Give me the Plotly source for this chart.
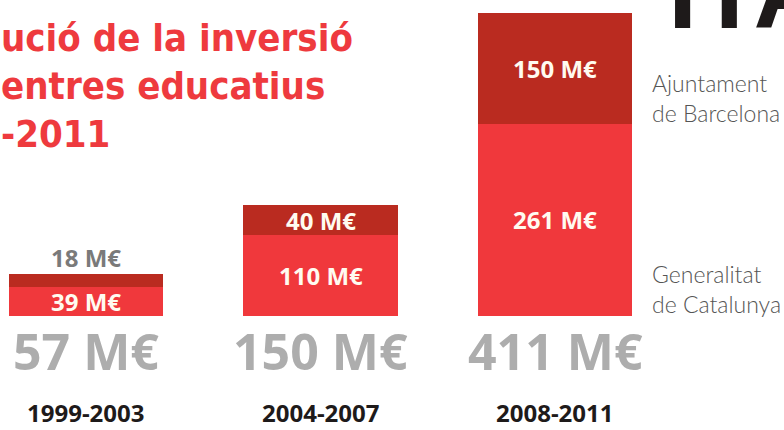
import plotly.graph_objects as go

# ---- data ----
periods = ["1999-2003", "2004-2007", "2008-2011"]
generalitat = [39, 110, 261]
ajuntament = [18, 40, 150]
totals = [57, 150, 411]
title_lines = ["ució de la inversió", "entres educatius", "-2011"]
legend_ajuntament = "Ajuntament<br>de Barcelona"
legend_generalitat = "Generalitat<br>de Catalunya"

# ---- styling ----
W, H = 784, 430
RED = "#F0383C"
DARK = "#BA2B20"
TITLE_RED = "#EE3A3E"
GREY_TOTAL = "#ADADAD"
INK = "#1E1A1A"
NUM_FONT = "Open Sans"
TITLE_FONT = "Liberation Sans Narrow, DejaVu Sans Condensed, Roboto Condensed, Arial Narrow, sans-serif"

x = list(range(len(periods)))

def py(p):
    return 1 - p / H

def pxx(p):
    return p / W

fig = go.Figure()
fig.add_trace(go.Bar(x=x, y=generalitat, marker=dict(color=RED, line=dict(width=0)),
                     width=0.657, hoverinfo="skip", name="Generalitat de Catalunya"))
fig.add_trace(go.Bar(x=x, y=ajuntament, marker=dict(color=DARK, line=dict(width=0)),
                     width=0.657, hoverinfo="skip", name="Ajuntament de Barcelona"))

ann = []
for i in x:
    g, a, t = generalitat[i], ajuntament[i], totals[i]
    ann.append(dict(x=i, y=g / 2, xref="x", yref="y", text=f"{g} M€", showarrow=False,
                    font=dict(family=NUM_FONT, size=24, color="#FFFBF0", weight="bold"),
                    xanchor="center", yanchor="middle"))
    if a >= 30:
        ann.append(dict(x=i, y=g + a / 2, xref="x", yref="y", text=f"{a} M€", showarrow=False,
                        font=dict(family=NUM_FONT, size=24, color="#FFFBF0", weight="bold"),
                        xanchor="center", yanchor="middle"))
    else:
        ann.append(dict(x=i, y=g + a, xref="x", yref="y", text=f"{a} M€", showarrow=False,
                        font=dict(family=NUM_FONT, size=24, color="#7A7A7A", weight="bold"),
                        xanchor="center", yanchor="bottom", yshift=-2))
    ann.append(dict(x=i, y=0, xref="x", yref="y", text=f"{t} M€", showarrow=False,
                    font=dict(family=NUM_FONT, size=50, color=GREY_TOTAL, weight="bold"),
                    xanchor="center", yanchor="middle", yshift=-35))
    ann.append(dict(x=i, y=0, xref="x", yref="y", text=periods[i], showarrow=False,
                    font=dict(family=NUM_FONT, size=24, color=INK, weight="bold"),
                    xanchor="center", yanchor="bottom", yshift=-114, borderpad=0))

for line, cy in zip(title_lines, [38, 86, 134]):
    ann.append(dict(x=0, y=py(cy), xref="paper", yref="paper", text=line, showarrow=False,
                    font=dict(family=TITLE_FONT, size=38, color=TITLE_RED, weight="bold"),
                    xanchor="left", yanchor="middle", borderpad=0))

ann.append(dict(x=pxx(650), y=py(98), xref="paper", yref="paper", text=legend_ajuntament,
                showarrow=False, align="left",
                font=dict(family="Lato", size=23, color="#555555", weight=300),
                xanchor="left", yanchor="middle"))
ann.append(dict(x=pxx(650), y=py(289), xref="paper", yref="paper", text=legend_generalitat,
                showarrow=False, align="left",
                font=dict(family="Lato", size=23, color="#555555", weight=300),
                xanchor="left", yanchor="middle"))

ann.append(dict(x=pxx(666), y=py(52), xref="paper", yref="paper", text="ITA",
                showarrow=False, font=dict(family="Liberation Sans", size=105, color=INK, weight="bold"),
                xanchor="left", yanchor="bottom"))

px_per_unit = 303 / 411
cx0 = 86
spacing = 234.5
base = 316

fig.update_layout(
    width=W, height=H,
    margin=dict(l=0, r=0, t=0, b=0),
    paper_bgcolor="white", plot_bgcolor="white",
    barmode="stack", showlegend=False,
    xaxis=dict(range=[-cx0 / spacing, (W - cx0) / spacing], visible=False, fixedrange=True),
    yaxis=dict(range=[-(H - base) / px_per_unit, base / px_per_unit], visible=False, fixedrange=True),
    annotations=ann,
)

fig.write_html("out.html", config={"displayModeBar": False},
               post_script="document.body.style.margin='0';document.body.style.overflow='hidden';")
